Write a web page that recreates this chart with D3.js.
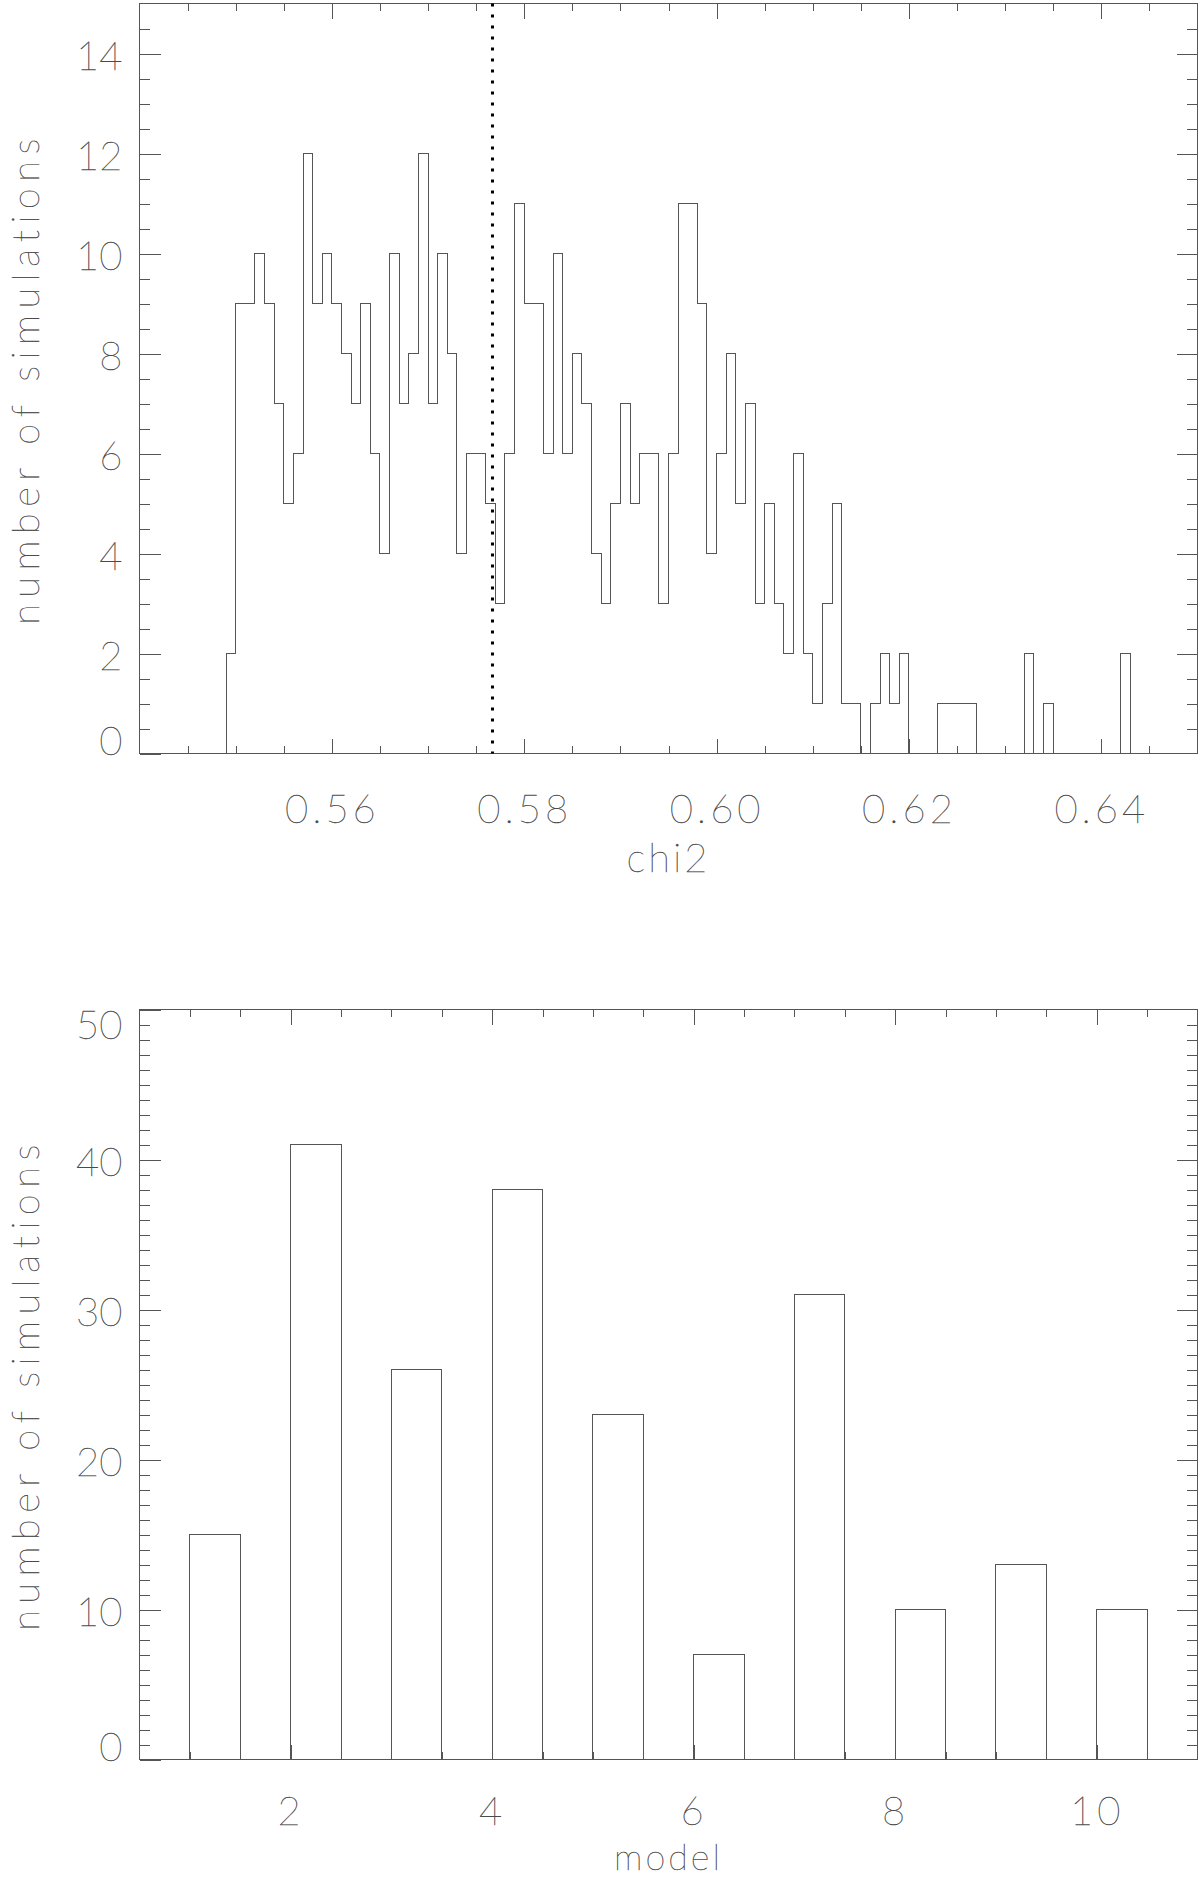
<!DOCTYPE html>
<html>
<head>
<meta charset="utf-8">
<script src="https://cdn.jsdelivr.net/npm/d3@7"></script>
<style>
  body { margin: 0; background: #fff; }
  svg text { font-family: Lato, "DejaVu Sans", sans-serif; font-weight: 100; fill: #4a4a4a; stroke: #4a4a4a; stroke-width: 0.35px; }
</style>
</head>
<body>
<div id="chart"></div>
<script>
// chi2 histogram, bins of 0.001 starting at 0.549
const chiBinStart = 0.549;
const chiBinWidth = 0.001;
const chiCounts = [
  2, 9, 9, 10, 9, 7, 5, 6, 12, 9,      // 0.549 - 0.558
  10, 9, 8, 7, 9, 6, 4, 10, 7, 8,      // 0.559 - 0.568
  12, 7, 10, 8, 4, 6, 6, 5, 3, 6,      // 0.569 - 0.578
  11, 9, 9, 6, 10, 6, 8, 7, 4, 3,      // 0.579 - 0.588
  5, 7, 5, 6, 6, 3, 6, 11, 11, 9,      // 0.589 - 0.598
  4, 6, 8, 5, 7, 3, 5, 3, 2, 6,        // 0.599 - 0.608
  2, 1, 3, 5, 1, 1, 0, 1, 2, 1,        // 0.609 - 0.618
  2, 0, 0, 0, 1, 1, 1, 1, 0, 0,        // 0.619 - 0.628
  0, 0, 0, 2, 0, 1, 0, 0, 0, 0,        // 0.629 - 0.638
  0, 0, 0, 2                           // 0.639 - 0.642
];
const chiMarker = 0.5767;
const chiDomain = [0.54, 0.65];
const chiTicks = [0.56, 0.58, 0.60, 0.62, 0.64];
const chiCountTicks = [0, 2, 4, 6, 8, 10, 12, 14];

// model histogram
const models = [1, 2, 3, 4, 5, 6, 7, 8, 9, 10];
const modelCounts = [15, 41, 26, 38, 23, 7, 31, 10, 13, 10];
const modelDomain = [0.5, 11];
const modelTicks = [2, 4, 6, 8, 10];
const modelCountTicks = [0, 10, 20, 30, 40, 50];

const W = 1200, H = 1878;
const left = 139.5, right = 1197.5;
const lineColor = "#555";

const svg = d3.select("#chart").append("svg")
  .attr("width", W)
  .attr("height", H);

function frame(top, bottom, x, y, opts) {
  const g = svg.append("g");

  const ax = (axis, tx, ty) => {
    const a = g.append("g")
      .attr("transform", `translate(${tx},${ty})`)
      .call(axis);
    a.select(".domain").remove();
    a.selectAll("line").attr("stroke", lineColor).attr("shape-rendering", "crispEdges");
    return a;
  };

  // minor ticks
  ax(d3.axisBottom(x).tickValues(opts.xMinor).tickSize(-7.5).tickFormat(""), 0, bottom);
  ax(d3.axisTop(x).tickValues(opts.xMinor).tickSize(-7.5).tickFormat(""), 0, top);
  ax(d3.axisLeft(y).tickValues(opts.yMinor).tickSize(-10.5).tickFormat(""), left, 0);
  ax(d3.axisRight(y).tickValues(opts.yMinor).tickSize(-10.5).tickFormat(""), right, 0);

  // major ticks
  const xb = ax(d3.axisBottom(x).tickValues(opts.xTicks).tickSize(-15).tickFormat(opts.xFormat), 0, bottom);
  ax(d3.axisTop(x).tickValues(opts.xTicks).tickSize(-15).tickFormat(""), 0, top);
  const yl = ax(d3.axisLeft(y).tickValues(opts.yTicks).tickSize(-21).tickFormat(d3.format("d")), left, 0);
  ax(d3.axisRight(y).tickValues(opts.yTicks.filter(d => d > y.domain()[0] && d < y.domain()[1])).tickSize(-21).tickFormat(""), right, 0);

  xb.selectAll("text")
    .attr("y", opts.labelBase)
    .attr("dy", null)
    .attr("font-size", 40)
    .style("letter-spacing", "4px")
    .attr("fill", null);

  const [y0, y1] = y.domain();
  yl.selectAll("text")
    .attr("x", -17)
    .attr("dy", null)
    .attr("font-size", 40)
    .attr("fill", null)
    .attr("y", d => d === y0 ? 1 : d === y1 ? 29 : 16);

  // frame
  g.append("rect")
    .attr("x", left)
    .attr("y", top)
    .attr("width", right - left)
    .attr("height", bottom - top)
    .attr("fill", "none")
    .attr("stroke", lineColor)
    .attr("shape-rendering", "crispEdges");

  // titles
  g.append("text")
    .attr("transform", `translate(39,${(top + bottom) / 2}) rotate(-90)`)
    .attr("text-anchor", "middle")
    .attr("font-size", 38)
    .style("letter-spacing", "6.5px")
    .text("number of simulations");

  g.append("text")
    .attr("x", (left + right) / 2)
    .attr("y", Math.min(bottom + 118, H - 8.5))
    .attr("text-anchor", "middle")
    .attr("font-size", opts.titleSize)
    .style("letter-spacing", "3px")
    .text(opts.xTitle);

  return g;
}

// ---- top: chi2 histogram ----
{
  const top = 3.5, bottom = 753.5;
  const x = d3.scaleLinear().domain(chiDomain).range([left, right]);
  const y = d3.scaleLinear().domain([0, 15]).range([bottom, top]);

  const g = frame(top, bottom, x, y, {
    xTicks: chiTicks,
    xMinor: d3.range(0.545, 0.6451, 0.005).filter(v => !chiTicks.some(t => Math.abs(t - v) < 1e-6)),
    yTicks: chiCountTicks,
    yMinor: d3.range(0.5, 15, 0.5).filter(v => v % 2 !== 0),
    xFormat: d3.format(".2f"),
    xTitle: "chi2",
    labelBase: 69,
    titleSize: 40
  });

  const pts = [[chiBinStart, 0]];
  chiCounts.forEach((c, i) => pts.push([chiBinStart + i * chiBinWidth, c]));
  const end = chiBinStart + chiCounts.length * chiBinWidth;
  pts.push([end, chiCounts[chiCounts.length - 1]]);
  pts.push([end, 0]);

  const line = d3.line()
    .x(d => x(d[0]))
    .y(d => y(d[1]))
    .curve(d3.curveStepAfter);

  g.append("path")
    .datum(pts)
    .attr("fill", "none")
    .attr("stroke", lineColor)
    .attr("stroke-width", 1)
    .attr("shape-rendering", "crispEdges")
    .attr("d", line);

  g.append("line")
    .attr("x1", x(chiMarker))
    .attr("x2", x(chiMarker))
    .attr("y1", top)
    .attr("y2", bottom)
    .attr("stroke", "#000")
    .attr("stroke-width", 3)
    .attr("stroke-dasharray", "3,8");
}

// ---- bottom: model histogram ----
{
  const top = 1009.5, bottom = 1759.5;
  const x = d3.scaleLinear().domain(modelDomain).range([left, right]);
  const y = d3.scaleLinear().domain([0, 50]).range([bottom, top]);

  const g = frame(top, bottom, x, y, {
    xTicks: modelTicks,
    xMinor: d3.range(1, 10.51, 0.5).filter(v => !modelTicks.includes(v)),
    yTicks: modelCountTicks,
    yMinor: d3.range(1, 50, 1).filter(v => v % 10 !== 0),
    xFormat: d3.format("d"),
    xTitle: "model",
    labelBase: 65.5,
    titleSize: 36
  });

  g.selectAll("rect.bar")
    .data(models)
    .enter()
    .append("rect")
    .attr("class", "bar")
    .attr("x", d => x(d))
    .attr("y", (d, i) => y(modelCounts[i]))
    .attr("width", d => x(d + 0.5) - x(d))
    .attr("height", (d, i) => y(0) - y(modelCounts[i]))
    .attr("fill", "none")
    .attr("stroke", lineColor)
    .attr("shape-rendering", "crispEdges");
}
</script>
</body>
</html>
